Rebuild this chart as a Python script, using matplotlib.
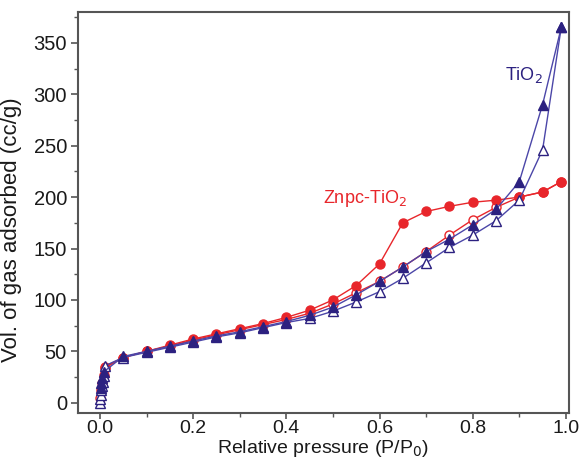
import matplotlib
matplotlib.use("Agg")
import matplotlib.pyplot as plt
from matplotlib.ticker import MultipleLocator

plt.rcParams['font.family'] = ['Liberation Sans', 'DejaVu Sans']

# TiO2 adsorption (open triangles)
tio2_ads_x = [0.0005, 0.001, 0.002, 0.003, 0.004, 0.006, 0.008, 0.011, 0.05, 0.10, 0.15, 0.20, 0.25,
              0.30, 0.35, 0.40, 0.45, 0.50, 0.55, 0.60, 0.65, 0.70, 0.75, 0.80, 0.85, 0.90, 0.95, 0.99]
tio2_ads_y = [0, 4, 8, 12, 16, 20, 26, 36, 44, 49, 54, 59, 64,
              68, 73, 78, 82, 89, 98, 108, 121, 136, 151, 163, 177, 197, 246, 365]
# TiO2 desorption (filled triangles)
tio2_des_x = [0.99, 0.95, 0.90, 0.85, 0.80, 0.75, 0.70, 0.65, 0.60, 0.55, 0.50, 0.45, 0.40,
              0.35, 0.30, 0.25, 0.20, 0.15, 0.10, 0.05, 0.008, 0.005, 0.003, 0.002]
tio2_des_y = [365, 290, 215, 188, 173, 159, 147, 132, 118, 105, 93, 85, 79,
              74, 69, 65, 60, 55, 50, 45, 30, 24, 19, 14]
# Znpc-TiO2 adsorption (open circles)
zn_ads_x = [0.001, 0.003, 0.005, 0.008, 0.011, 0.05, 0.10, 0.15, 0.20, 0.25, 0.30, 0.35, 0.40,
            0.45, 0.50, 0.55, 0.60, 0.65, 0.70, 0.75, 0.80, 0.85, 0.90, 0.95, 0.99]
zn_ads_y = [5, 12, 19, 27, 34, 44, 50, 55, 61, 66, 71, 76, 81,
            87, 96, 107, 118, 132, 147, 163, 178, 190, 200, 205, 215]
# Znpc-TiO2 desorption (filled circles)
zn_des_x = [0.99, 0.95, 0.90, 0.85, 0.80, 0.75, 0.70, 0.65, 0.60, 0.55, 0.50, 0.45, 0.40,
            0.35, 0.30, 0.25, 0.20, 0.15, 0.10, 0.05, 0.01]
zn_des_y = [215, 205, 200, 197, 195, 191, 186, 175, 135, 114, 100, 90, 83,
            77, 72, 67, 62, 56, 50, 44, 35]

xticks = [0.0, 0.2, 0.4, 0.6, 0.8, 1.0]
yticks = [0, 50, 100, 150, 200, 250, 300, 350]

red = '#e8262b'
navy = '#2c2180'
navy_line = '#4b46a8'

fig = plt.figure(figsize=(5.8, 4.62), dpi=100)
ax = fig.add_axes([0.1345, 0.106, 0.846, 0.868])

ax.plot(zn_ads_x, zn_ads_y, '-o', color=red, lw=1.0, ms=6.5, mfc='white', mec=red, mew=1.0, zorder=2)
ax.plot(zn_des_x, zn_des_y, '-o', color=red, lw=1.0, ms=6.5, mfc=red, mec=red, zorder=2)
ax.plot(tio2_ads_x, tio2_ads_y, '-^', color=navy_line, lw=1.0, ms=7.5, mfc='white', mec=navy, mew=1.0, zorder=3)
ax.plot(tio2_des_x, tio2_des_y, '-^', color=navy_line, lw=1.0, ms=7.5, mfc=navy, mec=navy, zorder=3)

ax.text(0.869, 319, 'TiO$_2$', color=navy, fontsize=13, ha='left', va='center')
ax.text(0.479, 199, 'Znpc-TiO$_2$', color=red, fontsize=13, ha='left', va='center')

ax.set_xlim(-0.047, 1.006)
ax.set_ylim(-10, 380)
ax.set_xticks(xticks)
ax.set_xticklabels([f'{t:.1f}' for t in xticks])
ax.set_yticks(yticks)
ax.xaxis.set_minor_locator(MultipleLocator(0.1))
ax.yaxis.set_minor_locator(MultipleLocator(25))
ax.tick_params(axis='both', which='major', direction='out', length=5, width=1.2, color='#555555',
               labelsize=14.5, pad=3, top=False, right=False, labelcolor='#1a1a1a')
ax.tick_params(axis='x', which='major', labelsize=14, length=4, pad=1)
ax.tick_params(axis='both', which='minor', direction='out', length=3, width=1.0, color='#555555',
               top=False, right=False)
for s in ax.spines.values():
    s.set_color('#555555')
    s.set_linewidth(1.5)

ax.set_xlabel('Relative pressure (P/P$_0$)', fontsize=14, color='#1a1a1a')
ax.set_ylabel('Vol. of gas adsorbed (cc/g)', fontsize=16, color='#1a1a1a')
ax.xaxis.set_label_coords(0.5, -0.063)
ax.yaxis.set_label_coords(-0.114, 0.456)

fig.savefig('out.png', dpi=100)
